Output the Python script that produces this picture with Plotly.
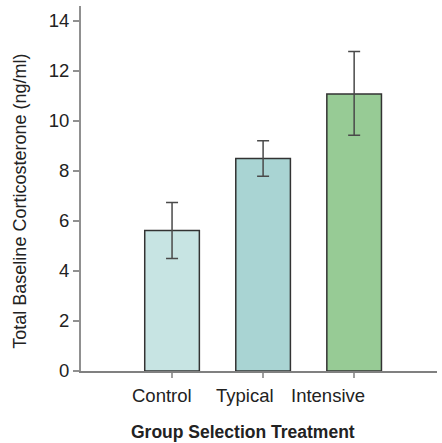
import plotly.graph_objects as go

# Group means and standard errors of baseline corticosterone
groups = ["Control", "Typical", "Intensive"]
means = [5.62, 8.5, 11.08]
err_plus = [1.12, 0.71, 1.7]
err_minus = [1.12, 0.71, 1.65]
bar_colors = ["#c7e4e3", "#a9d4d3", "#97cb95"]
y_ticks = [0, 2, 4, 6, 8, 10, 12, 14]

FONT = "Liberation Sans Narrow, Arial Narrow, sans-serif"
TEXT = "#222222"

fig = go.Figure(
    go.Bar(
        x=list(range(len(groups))),
        y=means,
        width=0.6,
        marker=dict(color=bar_colors, line=dict(color="#333333", width=1.5)),
        error_y=dict(
            type="data",
            symmetric=False,
            array=err_plus,
            arrayminus=err_minus,
            color="#4a4a4a",
            thickness=1.5,
            width=6,
        ),
    )
)

# Category labels sit on a slightly tighter pitch than the bars
label_annotations = [
    dict(
        text=name,
        xref="x", yref="paper",
        x=i * 0.91 - 0.11, y=-0.066,
        xanchor="center", yanchor="middle",
        showarrow=False,
        font=dict(family=FONT, size=18.5, color=TEXT),
    )
    for i, name in enumerate(groups)
]

fig.update_layout(
    width=442,
    height=443,
    margin=dict(l=81, r=5, t=6, b=72),
    plot_bgcolor="white",
    paper_bgcolor="white",
    showlegend=False,
    font=dict(family=FONT, size=18, color=TEXT),
    xaxis=dict(
        range=[-1.0, 2.91],
        tickvals=list(range(len(groups))),
        showticklabels=False,
        showline=True,
        linecolor="#808080",
        linewidth=2,
        ticks="outside",
        ticklen=5,
        tickcolor="#a0a0a0",
        tickwidth=2,
        showgrid=False,
        zeroline=False,
    ),
    yaxis=dict(
        range=[0, 14.6],
        tickvals=y_ticks,
        showline=True,
        linecolor="#909090",
        linewidth=2,
        ticks="outside",
        ticklen=6,
        tickcolor="#909090",
        tickwidth=1.5,
        showgrid=False,
        zeroline=False,
        tickfont=dict(family=FONT, size=18.5, color=TEXT),
    ),
    annotations=label_annotations + [
        dict(
            text="Total Baseline Corticosterone (ng/ml)",
            textangle=-90,
            xref="paper", yref="paper",
            x=-0.172, y=0.466,
            xanchor="center", yanchor="middle",
            showarrow=False,
            font=dict(family=FONT, size=18, color=TEXT),
        ),
        dict(
            text="<b>Group Selection Treatment</b>",
            xref="paper", yref="paper",
            x=0.456, y=-0.167,
            xanchor="center", yanchor="middle",
            showarrow=False,
            font=dict(family=FONT, size=17.5, color=TEXT),
        ),
    ],
)

fig.write_html("out.html")
